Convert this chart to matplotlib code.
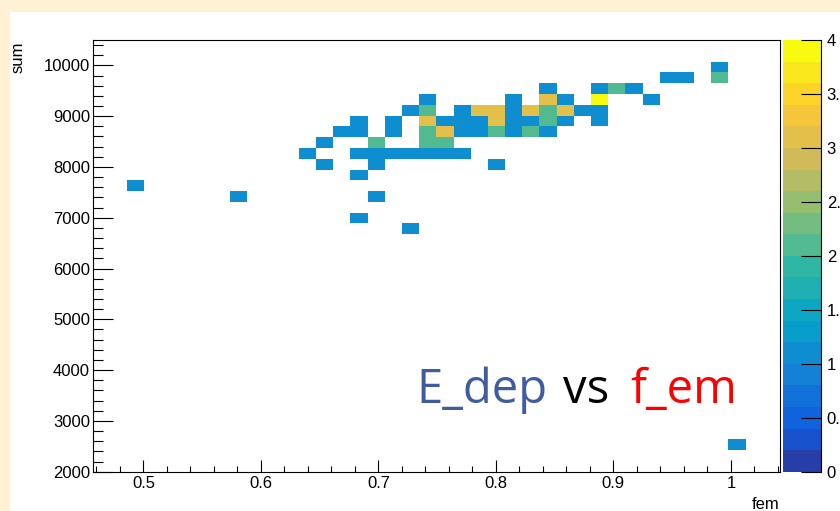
import numpy as np
import matplotlib
matplotlib.use('Agg')
import matplotlib.pyplot as plt
from matplotlib.colors import LinearSegmentedColormap, ListedColormap, BoundaryNorm
from matplotlib.patches import Rectangle
from matplotlib.ticker import MultipleLocator, FormatStrFormatter

# filled bins of the 2D histogram (bin centres), one line per sum row
fem = [
    0.991,
    0.947, 0.962, 0.991,
    0.844, 0.888, 0.903, 0.918,
    0.742, 0.815, 0.844, 0.859, 0.888, 0.932,
    0.727, 0.742, 0.771, 0.786, 0.801, 0.815, 0.830, 0.844, 0.859, 0.874, 0.888,
    0.684, 0.713, 0.742, 0.757, 0.771, 0.786, 0.801, 0.815, 0.830, 0.844, 0.859, 0.888,
    0.669, 0.684, 0.713, 0.742, 0.757, 0.771, 0.786, 0.801, 0.815, 0.830, 0.844,
    0.654, 0.698, 0.742, 0.757,
    0.640, 0.684, 0.698, 0.713, 0.727, 0.742, 0.757, 0.771,
    0.654, 0.698, 0.801,
    0.684,
    0.493,
    0.581, 0.698,
    0.684,
    0.727,
    1.005,
]
esum = [
    9970,
    9760, 9760, 9760,
    9540, 9540, 9540, 9540,
    9330, 9330, 9330, 9330, 9330, 9330,
    9120, 9120, 9120, 9120, 9120, 9120, 9120, 9120, 9120, 9120, 9120,
    8910, 8910, 8910, 8910, 8910, 8910, 8910, 8910, 8910, 8910, 8910, 8910,
    8690, 8690, 8690, 8690, 8690, 8690, 8690, 8690, 8690, 8690, 8690,
    8480, 8480, 8480, 8480,
    8270, 8270, 8270, 8270, 8270, 8270, 8270, 8270,
    8060, 8060, 8060,
    7840,
    7630,
    7420, 7420,
    6990,
    6780,
    2530,
]
counts = [
    1,
    1, 1, 2,
    1, 1, 2, 1,
    1, 1, 3, 1, 4, 1,
    1, 2, 1, 3, 3, 1, 3, 2, 3, 1, 1,
    1, 1, 3, 1, 1, 1, 3, 1, 1, 2, 1, 1,
    1, 1, 1, 2, 3, 1, 1, 2, 1, 2, 1,
    1, 2, 2, 2,
    1, 1, 1, 1, 1, 1, 1, 1,
    1, 1, 1,
    1,
    1,
    1, 1,
    1,
    1,
    1,
]

x_edges = np.linspace(0.4568, 1.0418, 41)
y_edges = np.linspace(2000, 10500, 41)

# ROOT kBird palette, 20 contour levels
bird_stops = [0.0, 0.125, 0.25, 0.375, 0.5, 0.625, 0.75, 0.875, 1.0]
bird_r = [0.2082, 0.0592, 0.0780, 0.0232, 0.1802, 0.5301, 0.8186, 0.9956, 0.9764]
bird_g = [0.1664, 0.3599, 0.5041, 0.6419, 0.7178, 0.7492, 0.7328, 0.7862, 0.9832]
bird_b = [0.5293, 0.8684, 0.8385, 0.7914, 0.6425, 0.4662, 0.3499, 0.1968, 0.0539]
bird = LinearSegmentedColormap.from_list(
    'bird', list(zip(bird_stops, zip(bird_r, bird_g, bird_b))), N=255)
ncont = 20
levels = np.linspace(0, 4, ncont + 1)
cols = [bird(min(int((k + 0.99) * 255 / ncont), 254)) for k in range(ncont)]
cmap = ListedColormap(cols)
cmap.set_over(cols[-1])
norm = BoundaryNorm(levels, ncont)

plt.rcParams['font.family'] = 'Liberation Sans'

W, H = 840, 511
fig = plt.figure(figsize=(W / 100, H / 100), dpi=100)
fig.patch.set_facecolor('white')
cream = '#FFF2D4'
fig.add_artist(Rectangle((0, 1 - 12 / H), 1, 12 / H, transform=fig.transFigure,
                         color=cream, lw=0, zorder=0))
fig.add_artist(Rectangle((0, 0), 10 / W, 1, transform=fig.transFigure,
                         color=cream, lw=0, zorder=0))

ax = fig.add_axes([92.7 / W, (H - 471.7) / H, (780 - 92.7) / W, (471.7 - 40) / H])
cax = fig.add_axes([783.3 / W, (H - 471.7) / H, (820.7 - 783.3) / W, (471.7 - 40) / H])

h = ax.hist2d(fem, esum, bins=[x_edges, y_edges], weights=counts,
              cmap=cmap, norm=norm, cmin=0.5)
mesh = h[3]

ax.set_xlim(x_edges[0], x_edges[-1])
ax.set_ylim(y_edges[0], y_edges[-1])
ax.xaxis.set_major_locator(MultipleLocator(0.1))
ax.xaxis.set_minor_locator(MultipleLocator(0.02))
ax.yaxis.set_major_locator(MultipleLocator(1000))
ax.yaxis.set_minor_locator(MultipleLocator(200))
ax.xaxis.set_major_formatter(FormatStrFormatter('%g'))
ax.yaxis.set_major_formatter(FormatStrFormatter('%g'))
ax.tick_params(axis='x', which='major', direction='in', length=8.9, width=0.8,
               pad=3, labelsize=12)
ax.tick_params(axis='x', which='minor', direction='in', length=4.5, width=0.8)
ax.tick_params(axis='y', which='major', direction='in', length=14.4, width=0.8,
               pad=2, labelsize=12)
ax.tick_params(axis='y', which='minor', direction='in', length=7.2, width=0.8)
for sp in ax.spines.values():
    sp.set_linewidth(0.8)

cbar = fig.colorbar(mesh, cax=cax, ticks=np.arange(0, 4.01, 0.5), format='%g')
cbar.outline.set_visible(False)
cax.spines['right'].set_visible(True)
cax.spines['right'].set_linewidth(0.8)
cax.minorticks_off()
cax.tick_params(axis='y', which='major', direction='in', length=14.2, width=0.8,
                pad=4.3, labelsize=12)

fig.text(18 / W, 1 - 41.7 / H, 'sum', rotation=90, ha='center', va='top', fontsize=12)
fig.text(780 / W, 1.8 / H, 'fem', ha='right', va='baseline', fontsize=12)

# annotation in three colours
tfont = dict(family='Open Sans', fontsize=34, va='baseline', ha='left')
y_base = 1 - 403.3 / H
fig.text(416.7 / W, y_base, 'E_dep', color='#3E5C9F', **tfont)
fig.text(563.3 / W, y_base, 'vs', color='black', **tfont)
fig.text(630 / W, y_base, 'f_em', color='#FF0000', **tfont)

fig.savefig('out.png', dpi=100)
